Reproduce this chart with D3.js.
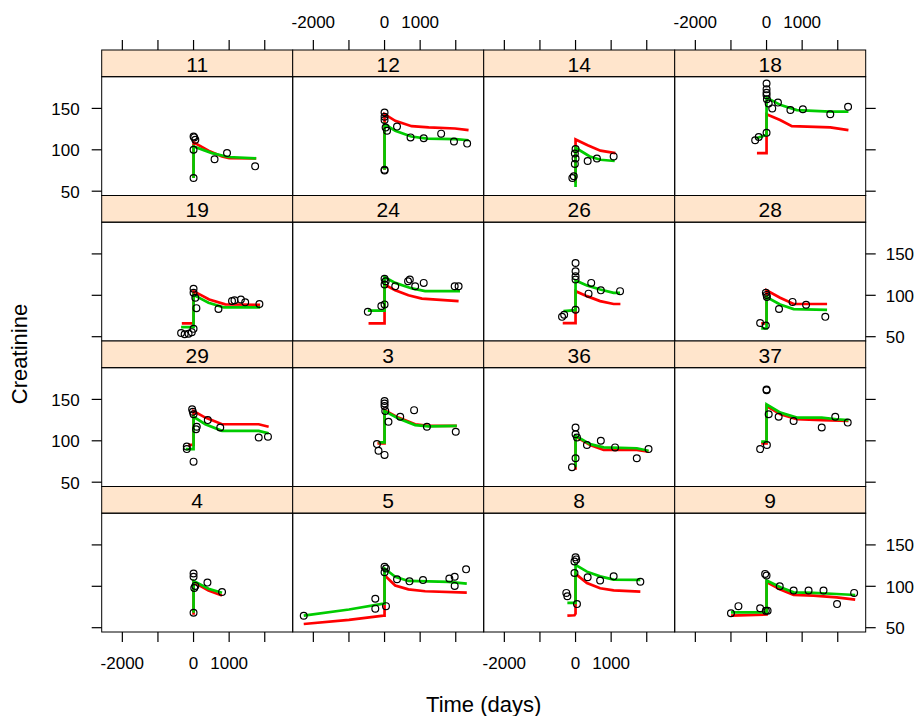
<!DOCTYPE html>
<html>
<head>
<meta charset="utf-8">
<script src="https://cdn.jsdelivr.net/npm/d3@7"></script>
<style>
  html, body { margin: 0; padding: 0; background: #fff; }
  text { font-family: "Liberation Sans", Arial, sans-serif; fill: #000; }
</style>
</head>
<body>
<svg id="chart" width="919" height="716"></svg>
<script>
// Panels, laid out row by row (top to bottom)
const panelRows = [
  ["11", "12", "14", "18"],
  ["19", "24", "26", "28"],
  ["29", "3", "36", "37"],
  ["4", "5", "8", "9"]
];

const xTicks = [-2000, -1000, 0, 1000, 2000];
const xTickLabels = [-2000, 0, 1000];
const yTicks = [50, 100, 150];

// Observed creatinine: [time (days), value]
const observed = {
  "11": [[0,66],[0,100],[0,116],[20,115],[50,112],[590,88.5],[940,96],[1730,80]],
  "12": [[0,76],[0,75],[0,145],[0,140],[0,136],[30,127],[70,123],[350,128],[730,115],[1100,114],[1590,119.5],[1950,110],[2320,107.5]],
  "14": [[-90,66],[-50,68],[0,101],[-20,95.5],[0,89.5],[-20,83],[340,86.5],[600,89.5],[1070,92]],
  "18": [[-320,111.5],[-220,115.5],[0,120.5],[0,180],[0,173],[0,169],[0,166],[10,161],[60,156],[160,150],[320,157],[670,148],[1020,149],[1790,143],[2290,152]],
  "19": [[-350,54.5],[-250,53],[-140,53.5],[-50,55.5],[0,59.5],[0,108],[0,103],[50,97],[80,84.5],[700,83.5],[1080,93],[1150,94],[1330,95],[1450,91.5],[1850,89.5]],
  "24": [[-470,80],[-90,87],[0,89],[0,120],[0,113],[30,117],[300,111],[660,117],[710,119],[860,111],[1100,115],[1970,111],[2080,111]],
  "26": [[-380,74],[-320,76.5],[0,82.5],[0,139],[0,129],[0,123],[0,119],[365,102],[440,115],[710,106],[1250,105]],
  "28": [[-180,66.5],[-20,63.5],[-20,103],[0,100.5],[10,98],[350,83.5],[730,92],[1110,88.5],[1650,74]],
  "29": [[-190,93],[-190,90],[0,74.8],[-40,138],[-20,135],[0,132],[90,117],[70,114],[400,125],[750,116],[1830,104],[2090,105]],
  "3":  [[-215,96],[-170,88],[0,83],[0,148],[0,145],[0,142],[20,136],[110,123],[440,129],[830,137],[1190,117],[2000,111]],
  "36": [[-100,68],[0,79],[0,116],[0,108],[40,104],[320,95],[710,100],[1110,92],[1720,79],[2050,90]],
  "37": [[0,162],[0,161],[-180,90],[10,95],[60,132],[340,129],[760,124],[1550,116],[1930,129],[2280,122]],
  "4":  [[0,68],[0,115.5],[0,111.5],[20,98],[50,100.5],[390,104.5],[800,93]],
  "5":  [[-2270,64.5],[-260,85],[-260,73],[40,76],[0,123.5],[0,117],[40,121.5],[350,108.5],[700,106],[1080,107.5],[1820,109.5],[1970,111.5],[1970,100.5],[2290,120.5]],
  "8":  [[-260,92],[-230,88],[0,135],[20,132.5],[-30,130],[-30,116],[40,78.5],[340,111],[690,107],[1070,112],[1820,105.5]],
  "9":  [[-1000,67.5],[-790,76],[-180,73.5],[-20,70.5],[30,70.5],[-40,115],[0,113],[370,100],[760,95],[1180,95],[1600,95],[1980,78.5],[2460,92]]
};

// Population-level fitted curve
const fitRed = {
  "11": [[0,66],[0,109],[420,99],[800,92],[1000,90],[1760,89.5]],
  "12": [[0,76],[0,143],[300,135],[760,128.5],[1240,127],[1980,125.7],[2360,123.7]],
  "14": [[0,60],[0,112.5],[340,105.5],[700,99],[1120,96]],
  "18": [[-270,96],[0,96],[0,143],[380,136],[710,128.5],[1790,127],[2300,123.7]],
  "19": [[-330,66],[0,66],[0,105],[440,95],[890,89],[1870,88.5]],
  "24": [[-450,66],[0,66],[0,113],[300,106],[670,100],[1050,96],[2080,93]],
  "26": [[-360,66.5],[0,66.5],[0,105],[320,99],[690,93],[1070,89.5],[1260,89.5]],
  "28": [[-150,66],[0,66],[0,106],[380,97],[760,89.5],[1700,89.5]],
  "29": [[-150,95],[0,95],[0,136],[330,128],[800,120],[1830,120],[2110,117]],
  "3":  [[-200,97],[0,97],[0,137],[390,128],[860,120],[1240,118],[2030,118]],
  "36": [[0,65],[0,105],[410,95],[790,89],[1720,89],[2050,87]],
  "37": [[-150,97],[0,97],[0,142],[390,132],[850,126],[1550,125],[2300,124]],
  "4":  [[0,65.5],[0,105],[420,95],[800,89]],
  "5":  [[-2270,54.5],[-1000,59.5],[-30,64.6],[0,64.6],[0,113.4],[300,101],[670,96.3],[1140,94],[2310,92.3]],
  "8":  [[-230,64.5],[-30,65],[0,67],[0,115],[320,104],[690,97.6],[1070,95],[1820,93.5]],
  "9":  [[-1000,64.5],[0,66],[0,105],[390,96],[760,89.5],[1320,88.7],[1970,86.7],[2490,84]]
};

// Subject-level fitted curve
const fitGreen = {
  "11": [[0,66],[0,104],[515,96],[980,91.3],[1760,89.7]],
  "12": [[0,76],[0,131],[300,123],[750,116],[1200,113.5],[2000,113],[2360,111.5]],
  "14": [[0,55],[0,102.5],[400,92],[700,88],[1100,86.5]],
  "18": [[-290,114],[0,118],[0,163],[400,154],[850,148],[1790,146],[2300,146]],
  "19": [[-350,61.5],[0,61.5],[0,100.5],[420,91],[850,85.5],[1870,85.5]],
  "24": [[-470,81.5],[0,81.5],[0,122],[300,115],[770,108.3],[1140,105],[2120,105]],
  "26": [[-340,81],[0,82],[0,118],[320,112],[690,107],[1070,103],[1250,103]],
  "28": [[-150,60],[0,60],[0,98],[380,89],[760,83.3],[1700,82.5]],
  "29": [[-220,90],[0,90],[0,129],[330,120],[800,112],[1830,112],[2110,109]],
  "3":  [[-170,98],[0,98],[0,136],[390,127],[860,119],[1240,117.5],[2030,118]],
  "36": [[0,68],[0,106],[410,96],[790,92],[1720,91],[2050,88]],
  "37": [[-150,99],[0,99],[0,144],[390,134],[850,128],[1550,128],[1970,126],[2300,125]],
  "4":  [[0,68],[0,106.5],[420,97],[800,92.3]],
  "5":  [[-2270,64.6],[-1000,72],[-30,79],[0,79],[0,121.5],[300,111.4],[670,106.5],[1800,105.3],[2310,103.3]],
  "8":  [[-230,80],[0,80],[0,126],[320,117.7],[690,112],[1070,108],[1820,107.7]],
  "9":  [[-1000,68.5],[0,68.5],[0,107],[390,98.8],[760,92.7],[1320,92],[1970,90.7],[2490,89.5]]
};

// Layout
const gridLeft = 101.7, gridTop = 50;
const panelW = 191, rowH = 145.5, stripH = 26.7;
const plotH = rowH - stripH;
const tickLen = 10;

const x = d3.scaleLinear().domain([-2580, 2785]).range([0, panelW]);
const y = d3.scaleLinear().domain([44.8, 188.3]).range([plotH, 0]);

const svg = d3.select("#chart");
const nRows = panelRows.length, nCols = panelRows[0].length;
const totalW = panelW * nCols, totalH = rowH * nRows;

const line = d3.line().x(d => x(d[0])).y(d => y(d[1]));

panelRows.forEach((row, r) => {
  row.forEach((id, c) => {
    const g = svg.append("g")
      .attr("transform", `translate(${gridLeft + c * panelW},${gridTop + r * rowH})`);

    // strip
    g.append("rect")
      .attr("width", panelW).attr("height", stripH)
      .attr("fill", "#FFE5CC").attr("stroke", "#000").attr("stroke-width", 1);
    g.append("text")
      .attr("x", panelW / 2).attr("y", stripH / 2 + 1)
      .attr("text-anchor", "middle").attr("dominant-baseline", "central")
      .attr("font-size", 21).text(id);

    const p = g.append("g").attr("transform", `translate(0,${stripH})`);
    p.append("defs").append("clipPath").attr("id", "clip" + id)
      .append("rect").attr("width", panelW).attr("height", plotH);

    const body = p.append("g").attr("clip-path", `url(#clip${id})`);
    body.append("path").datum(fitRed[id])
      .attr("d", line).attr("fill", "none")
      .attr("stroke", "#FF0000").attr("stroke-width", 2.7);
    body.append("path").datum(fitGreen[id])
      .attr("d", line).attr("fill", "none")
      .attr("stroke", "#00CC00").attr("stroke-width", 2.7);
    body.selectAll("circle").data(observed[id]).join("circle")
      .attr("cx", d => x(d[0])).attr("cy", d => y(d[1]))
      .attr("r", 3.4).attr("fill", "none")
      .attr("stroke", "#000").attr("stroke-width", 1.2);

    p.append("rect")
      .attr("width", panelW).attr("height", plotH)
      .attr("fill", "none").attr("stroke", "#000").attr("stroke-width", 1);
  });
});

// Outer axes (alternating labels, lattice style)
const axes = svg.append("g").attr("stroke", "#000").attr("stroke-width", 1.2);
for (let c = 0; c < nCols; c++) {
  const ox = gridLeft + c * panelW;
  xTicks.forEach(t => {
    const px = ox + x(t);
    axes.append("line").attr("x1", px).attr("x2", px)
      .attr("y1", gridTop).attr("y2", gridTop - tickLen);
    axes.append("line").attr("x1", px).attr("x2", px)
      .attr("y1", gridTop + totalH).attr("y2", gridTop + totalH + tickLen);
  });
  xTickLabels.forEach(t => {
    const px = ox + x(t);
    if (c % 2 === 1) {
      svg.append("text").attr("x", px).attr("y", gridTop - 28)
        .attr("text-anchor", "middle").attr("dominant-baseline", "central")
        .attr("font-size", 17).text(t);
    } else {
      svg.append("text").attr("x", px).attr("y", gridTop + totalH + 31)
        .attr("text-anchor", "middle").attr("dominant-baseline", "central")
        .attr("font-size", 17).text(t);
    }
  });
}
for (let r = 0; r < nRows; r++) {
  const oy = gridTop + r * rowH + stripH;
  yTicks.forEach(v => {
    const py = oy + y(v);
    axes.append("line").attr("x1", gridLeft).attr("x2", gridLeft - tickLen)
      .attr("y1", py).attr("y2", py);
    axes.append("line").attr("x1", gridLeft + totalW).attr("x2", gridLeft + totalW + tickLen)
      .attr("y1", py).attr("y2", py);
    if (r % 2 === 0) {
      svg.append("text").attr("x", gridLeft - 22).attr("y", py + 1)
        .attr("text-anchor", "end").attr("dominant-baseline", "central")
        .attr("font-size", 17).text(v);
    } else {
      svg.append("text").attr("x", gridLeft + totalW + 20).attr("y", py + 1)
        .attr("text-anchor", "start").attr("dominant-baseline", "central")
        .attr("font-size", 17).text(v);
    }
  });
}

// Axis titles
svg.append("text")
  .attr("x", gridLeft + totalW / 2).attr("y", gridTop + totalH + 72)
  .attr("text-anchor", "middle").attr("dominant-baseline", "central")
  .attr("font-size", 22).text("Time (days)");
svg.append("text")
  .attr("transform", `translate(19,${gridTop + totalH / 2 + 13}) rotate(-90)`)
  .attr("text-anchor", "middle").attr("dominant-baseline", "central")
  .attr("font-size", 22).text("Creatinine");
</script>
</body>
</html>
